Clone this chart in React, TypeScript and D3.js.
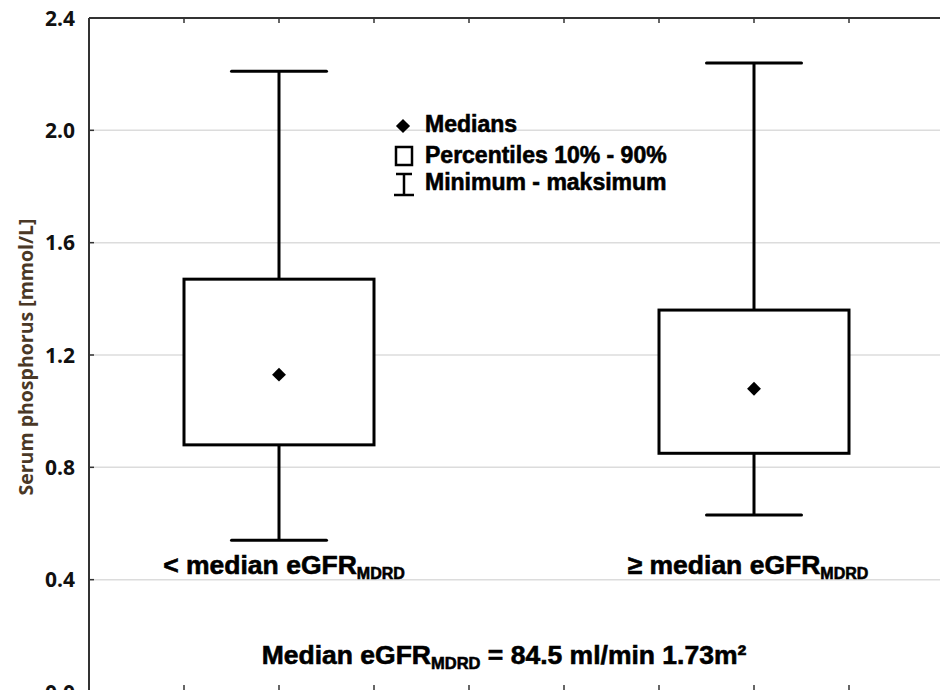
import React from "react";
import * as d3 from "d3";

// Group labels (main text + subscript)
const groupLabels = ["< median eGFR", "≥ median eGFR"];
const groupSub = "MDRD";
// Group positions along the hidden x axis
const groupPos = [2, 7];
// Box statistics per group (mmol/L)
const maxima = [2.21, 2.24];
const p90 = [1.47, 1.36];
const medians = [1.13, 1.08];
const p10 = [0.88, 0.85];
const minima = [0.54, 0.63];
// Axis ticks
const yTicks = [0.0, 0.4, 0.8, 1.2, 1.6, 2.0, 2.4];
const xTicks = [1, 2, 3, 4, 5, 6, 7, 8];

const W = 940;
const H = 690;
const LEFT = 89;
const TOP = 18;

const FONT = "'Liberation Sans', Arial, sans-serif";
const AXIS_FONT = "'Open Sans', 'Liberation Sans', sans-serif";

export default function App() {
  const x = d3.scaleLinear().domain([0, 9]).range([LEFT, 944]);
  const y = d3.scaleLinear().domain([0, 2.4]).range([692, TOP]);
  const diamond = d3.symbol(d3.symbolSquare, 96)() as string;
  const legendDiamond = d3.symbol(d3.symbolSquare, 100)() as string;

  const boxes = groupPos.map((p, i) => ({
    cx: x(p),
    x0: x(p - 1),
    x1: x(p + 1),
    c0: x(p - 0.5),
    c1: x(p + 0.5),
    max: y(maxima[i]),
    hi: y(p90[i]),
    med: y(medians[i]),
    lo: y(p10[i]),
    min: y(minima[i]),
  }));

  const heavy = { stroke: "#000", strokeWidth: 0.6 };

  return (
    <svg
      width={W}
      height={H}
      viewBox={`0 0 ${W} ${H}`}
      style={{ position: "absolute", left: 0, top: 0, background: "#fff" }}
    >
      <rect x={0} y={0} width={W} height={H} fill="#fff" />

      {/* horizontal grid */}
      {yTicks
        .filter((t) => t > 0 && t < 2.4)
        .map((t) => (
          <line key={`g${t}`} x1={LEFT} x2={W} y1={y(t)} y2={y(t)} stroke="#dcdcdc" strokeWidth={1.5} />
        ))}

      {/* frame: left and top axis lines */}
      <line x1={LEFT} x2={LEFT} y1={TOP} y2={H} stroke="#333" strokeWidth={2} />
      <line x1={LEFT} x2={W} y1={TOP} y2={TOP} stroke="#333" strokeWidth={2} />

      {/* y ticks and labels */}
      {yTicks.map((t) => (
        <g key={`y${t}`}>
          <line x1={LEFT} x2={LEFT + 5} y1={y(t)} y2={y(t)} stroke="#333" strokeWidth={1.5} />
          <text
            x={75}
            y={y(t)}
            dy="0.36em"
            textAnchor="end"
            fontFamily={AXIS_FONT}
            fontWeight={700}
            fontSize={21}
            fill="#111"
          >
            {t.toFixed(1)}
          </text>
        </g>
      ))}

      {/* x ticks on top and bottom edges */}
      {xTicks.map((t) => (
        <g key={`x${t}`}>
          <line x1={x(t)} x2={x(t)} y1={TOP} y2={TOP + 5} stroke="#333" strokeWidth={1.5} />
          <line x1={x(t)} x2={x(t)} y1={y(0)} y2={y(0) - 7} stroke="#333" strokeWidth={1.5} />
        </g>
      ))}

      {/* y axis title */}
      <text
        transform={`translate(33, ${357}) rotate(-90)`}
        textAnchor="middle"
        fontFamily={AXIS_FONT}
        fontWeight={700}
        fontSize={19.5}
        fill="#4a3826"
      >
        Serum phosphorus [mmol/L]
      </text>

      {/* boxes */}
      {boxes.map((b, i) => (
        <g key={`b${i}`} stroke="#000" strokeWidth={3}>
          <line x1={b.cx} x2={b.cx} y1={b.max} y2={b.hi} />
          <line x1={b.cx} x2={b.cx} y1={b.lo} y2={b.min} />
          <line x1={b.c0} x2={b.c1} y1={b.max} y2={b.max} strokeLinecap="round" />
          <line x1={b.c0} x2={b.c1} y1={b.min} y2={b.min} strokeLinecap="round" />
          <rect x={b.x0} y={b.hi} width={b.x1 - b.x0} height={b.lo - b.hi} fill="#fff" />
          <path d={diamond} transform={`translate(${b.cx},${b.med}) rotate(45)`} fill="#000" stroke="none" />
        </g>
      ))}

      {/* group labels */}
      {groupPos.map((p, i) => (
        <text
          key={`l${i}`}
          x={x(p) + (i === 0 ? 5 : -6)}
          y={574}
          textAnchor="middle"
          fontFamily={FONT}
          fontWeight={700}
          fontSize={26.5}
          fill="#000"
          {...heavy}
        >
          {groupLabels[i]}
          <tspan fontSize={16} dy={5}>
            {groupSub}
          </tspan>
        </text>
      ))}

      {/* legend */}
      <g fontFamily={FONT} fontWeight={700} fontSize={23} fill="#000">
        <path d={legendDiamond} transform="translate(403,126) rotate(45)" fill="#000" />
        <text x={425} y={132} {...heavy}>Medians</text>
        <rect x={396} y={147} width={16} height={18} fill="#fff" stroke="#000" strokeWidth={2.5} />
        <text x={425} y={163} {...heavy}>Percentiles 10% - 90%</text>
        <g stroke="#000" strokeWidth={2.5}>
          <line x1={404} x2={404} y1={174} y2={195} />
          <line x1={396} x2={412} y1={174} y2={174} />
          <line x1={394} x2={414} y1={195} y2={195} />
        </g>
        <text x={425} y={190} {...heavy}>Minimum - maksimum</text>
      </g>

      {/* cut-off note */}
      <text
        x={504}
        y={664}
        textAnchor="middle"
        fontFamily={FONT}
        fontWeight={700}
        fontSize={26.5}
        fill="#000"
        {...heavy}
      >
        Median eGFR
        <tspan fontSize={16.5} dy={5}>
          {groupSub}
        </tspan>
        <tspan dy={-5}> = 84.5 ml/min 1.73m²</tspan>
      </text>
    </svg>
  );
}
